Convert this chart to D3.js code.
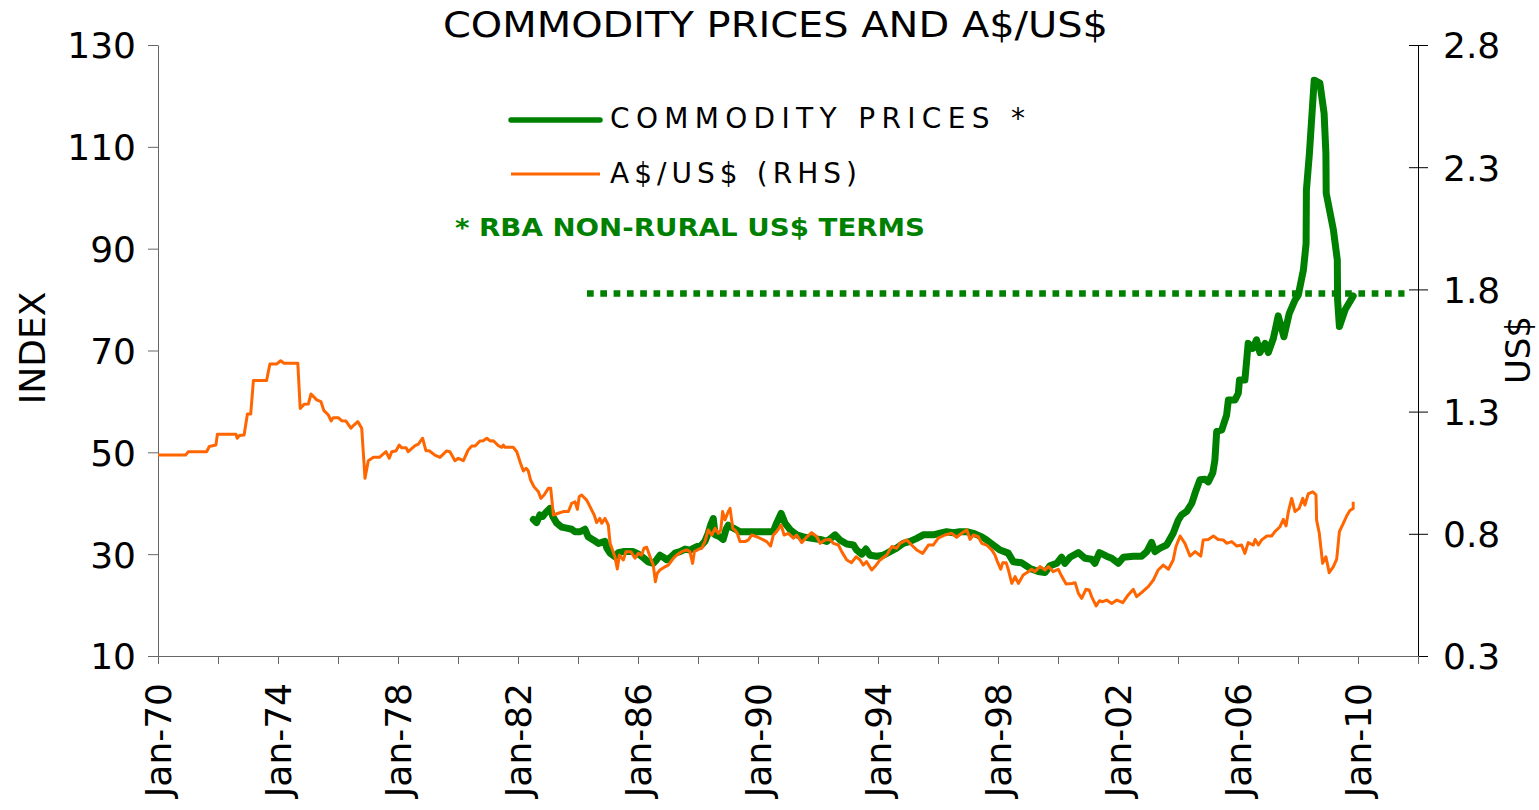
<!DOCTYPE html>
<html>
<head>
  <title>Commodity Prices and A$/US$</title>
  <script src="https://d3js.org/d3.v7.min.js"></script>
  <style>
    body { margin: 0; background: #fff; }
    svg { font-family: "DejaVu Sans", Verdana, sans-serif; }
    .tick text { font-family: "DejaVu Sans", Verdana, sans-serif; font-size: 36px; fill: #000; }
    .axis-left path, .axis-left line { stroke: #666; }
    .axis-right path, .axis-right line { stroke: #000; }
    .axis-bottom path, .axis-bottom line { stroke: #666; }
  </style>
</head>
<body>
  <script>
    // A$/US$ exchange rate (right axis), [decimal year, US$]
    var audusd = [
      [1970.0,1.122],[1970.92,1.122],[1971.01,1.136],[1971.62,1.136],[1971.71,1.157],[1971.93,1.163],
      [1971.98,1.207],[1972.6,1.207],[1972.64,1.191],[1972.71,1.202],[1972.87,1.204],[1972.98,1.290],
      [1973.09,1.290],[1973.18,1.427],[1973.62,1.427],[1973.73,1.495],[1973.96,1.495],[1974.09,1.508],
      [1974.2,1.498],[1974.66,1.498],[1974.74,1.313],[1974.87,1.330],[1975.01,1.331],[1975.1,1.372],
      [1975.29,1.348],[1975.43,1.341],[1975.53,1.304],[1975.68,1.286],[1975.77,1.262],[1975.84,1.275],
      [1976.01,1.275],[1976.12,1.263],[1976.26,1.262],[1976.43,1.232],[1976.53,1.245],[1976.66,1.259],
      [1976.79,1.232],[1976.9,1.027],[1977.01,1.099],[1977.18,1.113],[1977.38,1.113],[1977.6,1.136],
      [1977.71,1.109],[1977.79,1.136],[1977.93,1.139],[1978.04,1.163],[1978.12,1.152],[1978.27,1.152],
      [1978.34,1.136],[1978.57,1.161],[1978.68,1.167],[1978.82,1.191],[1978.93,1.140],[1979.04,1.140],
      [1979.23,1.122],[1979.4,1.113],[1979.62,1.139],[1979.73,1.136],[1979.9,1.099],[1980.01,1.109],
      [1980.18,1.099],[1980.34,1.143],[1980.46,1.159],[1980.57,1.159],[1980.73,1.180],[1980.84,1.181],
      [1980.96,1.191],[1981.07,1.180],[1981.18,1.181],[1981.34,1.161],[1981.46,1.154],[1981.51,1.163],
      [1981.57,1.154],[1981.84,1.154],[1981.96,1.136],[1982.09,1.086],[1982.18,1.057],[1982.27,1.068],
      [1982.34,1.058],[1982.42,1.020],[1982.53,0.993],[1982.68,0.972],[1982.76,0.945],[1982.87,0.959],
      [1983.01,0.986],[1983.09,0.986],[1983.18,0.877],[1983.34,0.884],[1983.51,0.891],[1983.68,0.891],
      [1983.79,0.925],[1983.9,0.931],[1983.98,0.900],[1984.04,0.952],[1984.12,0.959],[1984.29,0.938],
      [1984.4,0.911],[1984.54,0.877],[1984.62,0.846],[1984.73,0.863],[1984.79,0.843],[1984.9,0.863],
      [1985.01,0.836],[1985.07,0.761],[1985.23,0.706],[1985.31,0.656],[1985.38,0.713],[1985.51,0.693],
      [1985.6,0.727],[1985.76,0.727],[1985.9,0.700],[1986.01,0.720],[1986.12,0.713],[1986.2,0.741],
      [1986.29,0.745],[1986.42,0.700],[1986.51,0.672],[1986.58,0.604],[1986.64,0.638],[1986.73,0.652],
      [1986.9,0.665],[1987.01,0.672],[1987.18,0.700],[1987.29,0.713],[1987.46,0.727],[1987.62,0.734],
      [1987.73,0.727],[1987.82,0.679],[1987.88,0.727],[1988.01,0.736],[1988.12,0.741],[1988.23,0.768],
      [1988.34,0.816],[1988.46,0.795],[1988.57,0.822],[1988.68,0.802],[1988.76,0.816],[1988.82,0.891],
      [1988.9,0.857],[1989.01,0.891],[1989.07,0.904],[1989.16,0.822],[1989.23,0.816],[1989.31,0.802],
      [1989.4,0.768],[1989.57,0.768],[1989.68,0.775],[1989.79,0.795],[1989.96,0.788],[1990.18,0.775],
      [1990.29,0.768],[1990.42,0.750],[1990.51,0.795],[1990.62,0.809],[1990.77,0.836],[1990.87,0.795],
      [1991.01,0.802],[1991.18,0.782],[1991.29,0.795],[1991.46,0.764],[1991.62,0.786],[1991.79,0.805],
      [1991.96,0.788],[1992.07,0.761],[1992.23,0.775],[1992.4,0.777],[1992.51,0.761],[1992.68,0.754],
      [1992.79,0.727],[1992.96,0.693],[1993.12,0.682],[1993.27,0.706],[1993.4,0.693],[1993.51,0.672],
      [1993.62,0.686],[1993.79,0.652],[1993.9,0.666],[1994.07,0.693],[1994.29,0.713],[1994.46,0.748],
      [1994.62,0.741],[1994.73,0.761],[1994.96,0.775],[1995.12,0.754],[1995.29,0.734],[1995.49,0.720],
      [1995.68,0.754],[1995.84,0.754],[1996.01,0.782],[1996.23,0.795],[1996.46,0.802],[1996.62,0.786],
      [1996.79,0.802],[1996.96,0.816],[1997.07,0.777],[1997.18,0.795],[1997.34,0.788],[1997.46,0.761],
      [1997.62,0.754],[1997.79,0.734],[1997.9,0.713],[1997.98,0.686],[1998.09,0.655],[1998.16,0.682],
      [1998.27,0.682],[1998.34,0.655],[1998.46,0.597],[1998.57,0.625],[1998.68,0.597],[1998.84,0.631],
      [1999.01,0.645],[1999.12,0.655],[1999.23,0.645],[1999.4,0.666],[1999.57,0.652],[1999.68,0.666],
      [1999.84,0.645],[2000.01,0.655],[2000.12,0.627],[2000.27,0.595],[2000.46,0.597],[2000.57,0.600],
      [2000.68,0.556],[2000.79,0.536],[2000.93,0.573],[2001.04,0.570],[2001.12,0.543],[2001.27,0.505],
      [2001.38,0.526],[2001.49,0.522],[2001.62,0.529],[2001.79,0.515],[2001.96,0.529],[2002.16,0.518],
      [2002.34,0.550],[2002.51,0.573],[2002.62,0.543],[2002.82,0.563],[2003.01,0.584],[2003.18,0.611],
      [2003.34,0.652],[2003.51,0.672],[2003.68,0.655],[2003.84,0.693],[2003.93,0.747],[2004.07,0.791],
      [2004.23,0.761],[2004.4,0.709],[2004.57,0.727],[2004.76,0.709],[2004.84,0.775],[2005.01,0.777],
      [2005.18,0.791],[2005.34,0.777],[2005.51,0.775],[2005.62,0.761],[2005.79,0.768],[2005.96,0.750],
      [2006.12,0.754],[2006.23,0.720],[2006.34,0.764],[2006.51,0.754],[2006.57,0.777],[2006.68,0.754],
      [2006.79,0.775],[2006.96,0.791],[2007.12,0.791],[2007.23,0.809],[2007.4,0.829],[2007.51,0.859],
      [2007.6,0.832],[2007.68,0.891],[2007.79,0.945],[2007.9,0.891],[2008.04,0.904],[2008.16,0.945],
      [2008.23,0.918],[2008.34,0.963],[2008.49,0.972],[2008.6,0.959],[2008.62,0.856],[2008.71,0.802],
      [2008.82,0.679],[2008.93,0.706],[2009.04,0.641],[2009.18,0.666],[2009.29,0.696],[2009.38,0.809],
      [2009.51,0.843],[2009.64,0.877],[2009.73,0.895],[2009.84,0.904],[2009.84,0.931]
    ];

    // RBA non-rural commodity prices, US$ terms (left axis), [decimal year, index]
    var commodity = [
      [1982.51,36.8],[1982.62,36.2],[1982.73,37.7],[1982.82,37.4],[1982.93,38.2],[1983.07,39.0],
      [1983.16,37.4],[1983.29,36.1],[1983.46,35.3],[1983.62,35.1],[1983.79,34.9],[1983.9,34.4],
      [1984.07,34.4],[1984.23,34.9],[1984.34,33.4],[1984.51,32.8],[1984.68,32.1],[1984.79,32.3],
      [1984.9,32.5],[1984.96,31.2],[1985.07,30.2],[1985.23,29.5],[1985.34,30.3],[1985.51,30.5],
      [1985.68,30.5],[1985.84,30.5],[1985.96,30.2],[1986.07,29.8],[1986.2,29.2],[1986.34,28.5],
      [1986.51,28.2],[1986.62,28.9],[1986.73,29.8],[1986.84,29.4],[1986.96,28.9],[1987.09,29.4],
      [1987.23,30.2],[1987.4,30.5],[1987.57,31.0],[1987.73,30.8],[1987.96,31.5],[1988.07,31.5],
      [1988.23,32.5],[1988.34,34.1],[1988.42,35.7],[1988.51,37.0],[1988.57,33.8],[1988.73,33.4],
      [1988.84,32.9],[1988.93,34.8],[1989.01,35.7],[1989.18,35.1],[1989.4,34.4],[1989.84,34.4],
      [1990.29,34.4],[1990.51,34.4],[1990.62,36.1],[1990.77,38.0],[1990.9,36.1],[1991.07,34.8],
      [1991.29,33.8],[1991.51,33.4],[1991.79,33.1],[1992.07,32.9],[1992.29,32.5],[1992.42,33.1],
      [1992.57,33.8],[1992.73,32.8],[1992.96,32.0],[1993.18,31.8],[1993.29,30.8],[1993.46,30.0],
      [1993.6,31.0],[1993.73,29.8],[1993.96,29.6],[1994.18,29.8],[1994.4,30.5],[1994.62,31.2],
      [1994.84,32.1],[1995.07,32.5],[1995.29,33.1],[1995.51,33.8],[1995.84,33.8],[1996.07,34.1],
      [1996.29,34.4],[1996.51,34.2],[1996.73,34.4],[1996.96,34.4],[1997.18,34.1],[1997.46,33.4],
      [1997.62,32.8],[1997.84,31.8],[1998.07,30.8],[1998.34,30.2],[1998.51,28.5],[1998.79,28.3],
      [1999.07,27.2],[1999.34,26.6],[1999.57,26.4],[1999.73,27.7],[1999.96,28.2],[2000.12,29.4],
      [2000.23,28.2],[2000.4,29.4],[2000.68,30.3],[2000.9,29.2],[2001.12,29.0],[2001.23,28.2],
      [2001.38,30.3],[2001.62,29.6],[2001.79,29.2],[2002.01,28.2],[2002.18,29.4],[2002.51,29.6],
      [2002.79,29.6],[2002.96,30.5],[2003.12,32.3],[2003.23,30.5],[2003.4,31.2],[2003.62,31.8],
      [2003.84,34.1],[2004.01,36.7],[2004.12,37.7],[2004.29,38.4],[2004.46,40.0],[2004.57,42.0],
      [2004.73,44.6],[2004.9,44.7],[2005.01,44.2],[2005.16,46.0],[2005.23,48.5],[2005.29,54.1],
      [2005.46,54.4],[2005.62,57.3],[2005.68,60.3],[2005.9,60.3],[2006.01,61.6],[2006.05,64.2],
      [2006.23,64.2],[2006.3,68.8],[2006.34,71.4],[2006.49,70.4],[2006.62,72.1],[2006.73,69.6],
      [2006.9,71.4],[2007.01,69.6],[2007.18,72.4],[2007.34,76.8],[2007.53,72.7],[2007.71,77.3],
      [2007.9,79.9],[2008.01,80.9],[2008.18,85.8],[2008.27,91.0],[2008.28,101.5],[2008.38,108.7],
      [2008.54,123.1],[2008.73,122.5],[2008.87,116.6],[2008.93,108.7],[2008.94,100.9],[2009.18,93.7],
      [2009.31,87.8],[2009.32,79.9],[2009.38,74.7],[2009.57,78.0],[2009.84,80.7]
    ];

    // dotted reference level (left axis) and its span
    var refLevel = 81.2;
    var refSpan = [1984.3, 2011.55];

    var leftTicks = [10, 30, 50, 70, 90, 110, 130];
    var rightTicks = [0.3, 0.8, 1.3, 1.8, 2.3, 2.8];
    var xTicks = d3.range(1970, 2013, 2);
    var xLabelYears = [1970, 1974, 1978, 1982, 1986, 1990, 1994, 1998, 2002, 2006, 2010];

    var width = 1539, height = 810;

    var svg = d3.select("body").append("svg")
        .attr("width", width)
        .attr("height", height);

    var x = d3.scaleLinear().domain([1970, 2012]).range([158, 1418]);
    var yL = d3.scaleLinear().domain([10, 130]).range([656, 45]);
    var yR = d3.scaleLinear().domain([0.3, 2.8]).range([656, 45]);

    // axes
    svg.append("g")
        .attr("class", "axis-left")
        .attr("transform", "translate(158,0)")
        .call(d3.axisLeft(yL).tickValues(leftTicks).tickSize(10).tickPadding(12).tickSizeOuter(0))
        .selectAll("text").attr("dy", "0.36em");

    var rAxis = svg.append("g")
        .attr("class", "axis-right")
        .attr("transform", "translate(1418,0)")
        .call(d3.axisRight(yR).tickValues(rightTicks).tickFormat(d3.format(".1f"))
              .tickSize(10).tickPadding(15).tickSizeOuter(0));
    rAxis.selectAll(".tick line").attr("x1", -9);
    rAxis.selectAll("text").attr("dy", "0.36em");

    var bAxis = svg.append("g")
        .attr("class", "axis-bottom")
        .attr("transform", "translate(0,656)")
        .call(d3.axisBottom(x).tickValues(xTicks).tickSize(8).tickSizeOuter(0)
              .tickFormat(function(d) {
                return xLabelYears.indexOf(d) >= 0 ? "Jan-" + String(d).slice(2) : "";
              }));
    bAxis.selectAll("text")
        .attr("transform", "rotate(-90)")
        .attr("text-anchor", "end")
        .attr("x", -27)
        .attr("y", 0)
        .attr("dy", "0.36em");

    // dotted reference line
    svg.append("line")
        .attr("x1", x(refSpan[0])).attr("x2", x(refSpan[1]))
        .attr("y1", yL(refLevel)).attr("y2", yL(refLevel))
        .attr("stroke", "#008000")
        .attr("stroke-width", 6.5)
        .attr("stroke-dasharray", "6.7,6.6");

    var lineL = d3.line()
        .x(function(d) { return x(d[0]); })
        .y(function(d) { return yL(d[1]); });
    var lineR = d3.line()
        .x(function(d) { return x(d[0]); })
        .y(function(d) { return yR(d[1]); });

    svg.append("path")
        .datum(commodity)
        .attr("d", lineL)
        .attr("fill", "none")
        .attr("stroke", "#008000")
        .attr("stroke-width", 7)
        .attr("stroke-linejoin", "round")
        .attr("stroke-linecap", "round");

    svg.append("path")
        .datum(audusd)
        .attr("d", lineR)
        .attr("fill", "none")
        .attr("stroke", "#FF6600")
        .attr("stroke-width", 3)
        .attr("stroke-linejoin", "round");

    // title
    svg.append("text")
        .attr("x", 443).attr("y", 37)
        .attr("textLength", 665)
        .attr("lengthAdjust", "spacingAndGlyphs")
        .style("font-size", "35px")
        .text("COMMODITY PRICES AND A$/US$");

    // axis titles
    svg.append("text")
        .attr("transform", "translate(45,348) rotate(-90)")
        .attr("text-anchor", "middle")
        .style("font-size", "36px")
        .text("INDEX");

    svg.append("text")
        .attr("transform", "translate(1530,350) rotate(-90)")
        .attr("text-anchor", "middle")
        .style("font-size", "34px")
        .text("US$");

    // legend
    svg.append("line")
        .attr("x1", 511).attr("x2", 600).attr("y1", 120).attr("y2", 120)
        .attr("stroke", "#008000").attr("stroke-width", 5.5).attr("stroke-linecap", "round");
    svg.append("text")
        .attr("x", 610).attr("y", 128)
        .attr("textLength", 415).attr("lengthAdjust", "spacing")
        .style("font-size", "28px")
        .text("COMMODITY PRICES *");

    svg.append("line")
        .attr("x1", 511).attr("x2", 600).attr("y1", 174).attr("y2", 174)
        .attr("stroke", "#FF6600").attr("stroke-width", 3);
    svg.append("text")
        .attr("x", 610).attr("y", 183)
        .attr("textLength", 247).attr("lengthAdjust", "spacing")
        .style("font-size", "28px")
        .text("A$/US$ (RHS)");

    svg.append("text")
        .attr("x", 455).attr("y", 236)
        .attr("textLength", 470).attr("lengthAdjust", "spacingAndGlyphs")
        .style("font-size", "25px")
        .style("font-weight", "bold")
        .attr("fill", "#008000")
        .text("* RBA NON-RURAL US$ TERMS");
  </script>
</body>
</html>
